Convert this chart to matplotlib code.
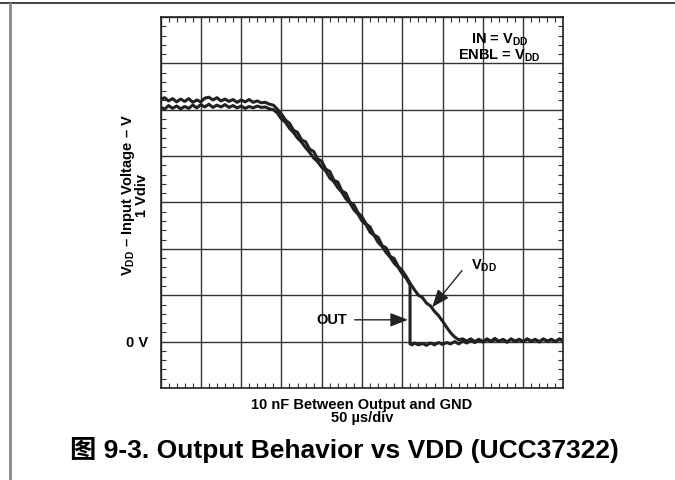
import matplotlib
matplotlib.use("Agg")
import matplotlib.pyplot as plt
from matplotlib.ticker import MultipleLocator

plt.rcParams['font.family'] = ['Liberation Sans', 'DejaVu Sans']
plt.rcParams['font.weight'] = 'bold'
plt.rcParams['mathtext.fontset'] = 'custom'
plt.rcParams['mathtext.rm'] = 'Liberation Sans:bold'
plt.rcParams['mathtext.bf'] = 'Liberation Sans:bold'
plt.rcParams['mathtext.it'] = 'Liberation Sans:bold'

# VDD trace, time in us, volts
t_vdd = [0, 5, 10, 15, 20, 25, 30, 35, 40, 45, 50, 55, 60, 65, 70, 75, 80, 85, 90, 95,
         100, 105, 110, 115, 120, 125, 130, 135, 140, 145, 150, 155, 160, 165, 170, 175,
         180, 185, 190, 195, 200, 205, 210, 215, 220, 225, 230, 235, 240, 245, 250, 255,
         260, 265, 270, 275, 280, 285, 290, 295, 300, 305, 310, 315, 320, 325, 330, 335,
         340, 345, 350, 355, 360, 365, 370, 375, 380, 385, 390, 395, 400, 405, 410, 415,
         420, 425, 430, 435, 440, 445, 450, 455, 460, 465, 470, 475, 480, 485, 490, 495, 500]
v_vdd = [5.22, 5.26, 5.19, 5.24, 5.17, 5.23, 5.18, 5.24, 5.16, 5.21, 5.17, 5.25, 5.27, 5.21,
         5.26, 5.19, 5.23, 5.18, 5.22, 5.16, 5.21, 5.17, 5.22, 5.16, 5.19, 5.15, 5.16, 5.12,
         5.10, 5.01, 4.91, 4.78, 4.71, 4.56, 4.51, 4.35, 4.31, 4.15, 4.10, 3.94, 3.89, 3.72,
         3.67, 3.48, 3.44, 3.25, 3.20, 3.01, 2.95, 2.78, 2.69, 2.54, 2.47, 2.30, 2.25, 2.07,
         2.02, 1.84, 1.79, 1.62, 1.53, 1.40, 1.25, 1.12, 1.00, 0.95, 0.83, 0.77, 0.65, 0.56,
         0.44, 0.31, 0.19, 0.10, 0.04, 0.06, 0.01, 0.06, 0.00, 0.05, 0.00, 0.06, 0.01, 0.07,
         0.00, 0.05, -0.01, 0.06, 0.01, 0.05, 0.00, 0.06, 0.01, 0.05, -0.01, 0.06, 0.01, 0.05,
         0.00, 0.06, 0.02]

# OUT trace
t_out = [0, 5, 10, 15, 20, 25, 30, 35, 40, 45, 50, 55, 60, 65, 70, 75, 80, 85, 90, 95,
         100, 105, 110, 115, 120, 125, 130, 135, 140, 145, 150, 155, 160, 165, 170, 175,
         180, 185, 190, 195, 200, 205, 210, 215, 220, 225, 230, 235, 240, 245, 250, 255,
         260, 265, 270, 275, 280, 285, 290, 295, 300, 305, 309.6, 309.6, 312, 315, 320,
         325, 330, 335, 340, 345, 350, 355, 360, 365, 370, 375, 380, 385, 390, 395, 400,
         405, 410, 415, 420, 425, 430, 435, 440, 445, 450, 455, 460, 465, 470, 475, 480,
         485, 490, 495, 500]
v_out = [5.06, 5.01, 5.09, 5.03, 5.08, 5.02, 5.07, 5.03, 5.10, 5.04, 5.11, 5.06, 5.12, 5.05,
         5.10, 5.06, 5.11, 5.05, 5.09, 5.04, 5.08, 5.03, 5.07, 5.04, 5.08, 5.05, 5.06, 5.02,
         5.00, 4.93, 4.80, 4.73, 4.60, 4.51, 4.39, 4.30, 4.18, 4.08, 3.96, 3.88, 3.76, 3.68,
         3.53, 3.45, 3.32, 3.22, 3.08, 2.99, 2.84, 2.75, 2.60, 2.52, 2.36, 2.29, 2.14, 2.05,
         1.92, 1.82, 1.69, 1.60, 1.46, 1.36, 1.22, -0.05, -0.07, -0.03, -0.07, -0.04, -0.08,
         -0.03, -0.07, -0.02, -0.06, -0.02, -0.05, 0.00, -0.05, 0.01, -0.03, 0.02, -0.02,
         0.03, -0.01, 0.04, 0.00, 0.04, 0.01, 0.04, -0.01, 0.05, 0.00, 0.04, 0.00, 0.05,
         0.01, 0.04, 0.00, 0.05, 0.01, 0.04, 0.00, 0.05, 0.01]

fig = plt.figure(figsize=(6.75, 4.8), dpi=100)
ax = fig.add_axes([0.2378, 0.1917, 0.597, 0.7729])

ax.plot(t_vdd, v_vdd, color='#222222', lw=2.2, zorder=3)
ax.plot(t_out, v_out, color='#222222', lw=2.2, zorder=3)

ax.set_xlim(0, 500)
ax.set_ylim(-1, 7)
ax.xaxis.set_major_locator(MultipleLocator(50))
ax.xaxis.set_minor_locator(MultipleLocator(10))
ax.yaxis.set_major_locator(MultipleLocator(1))
ax.yaxis.set_minor_locator(MultipleLocator(0.2))
ax.set_xticklabels([])
ax.set_yticks([-1, 0, 1, 2, 3, 4, 5, 6, 7])
ax.set_yticklabels(['', '0 V', '', '', '', '', '', '', ''], fontsize=10.5, fontweight='bold')
ax.grid(True, which='major', color='#333333', lw=1.0)
ax.tick_params(which='major', length=0, pad=9)
ax.tick_params(which='minor', direction='in', length=3.5, width=0.8,
               top=True, right=True, color='#333333')
for s in ax.spines.values():
    s.set_linewidth(1.2)
    s.set_color('#222222')

ax.set_ylabel('V$_{DD}$ \u2013 Input Voltage \u2013 V\n1 Vdiv', fontsize=10.5,
              fontweight='bold', linespacing=0.8)
ax.yaxis.set_label_coords(-0.029, 0.52)
ax.set_xlabel('10 nF Between Output and GND\n50 \u00b5s/div', fontsize=10.5,
              fontweight='bold', linespacing=0.95)
ax.xaxis.set_label_coords(0.5, -0.026)

ax.text(421, 6.50, 'IN = V$_{DD}$', ha='center', va='center', fontsize=10.5, fontweight='bold')
ax.text(421, 6.16, 'ENBL = V$_{DD}$', ha='center', va='center', fontsize=10.5, fontweight='bold')

ax.text(401, 1.63, 'V$_{DD}$', ha='center', va='center', fontsize=10.5, fontweight='bold')
ax.annotate('', xy=(337, 0.74), xytext=(374, 1.53),
            arrowprops=dict(arrowstyle='-|>,head_length=0.9,head_width=0.35',
                            mutation_scale=12, lw=1.0, color='#222222', shrinkA=0, shrinkB=0))
ax.text(213, 0.47, 'OUT', ha='center', va='center', fontsize=10.5, fontweight='bold')
ax.annotate('', xy=(307, 0.47), xytext=(241, 0.47),
            arrowprops=dict(arrowstyle='-|>,head_length=0.9,head_width=0.35',
                            mutation_scale=12, lw=1.0, color='#222222', shrinkA=0, shrinkB=0))

fig.text(0.51, 0.062, '\u56fe 9-3. Output Behavior vs VDD (UCC37322)', ha='center', va='center',
         fontsize=19, fontweight='bold', family=['Liberation Sans', 'Noto Sans CJK SC'])

# page frame lines
fig.add_artist(plt.Line2D([0, 1], [0.993, 0.993], color='#222222', lw=1.2))
fig.add_artist(plt.Line2D([0.0155, 0.0155], [0, 0.992], color='#888888', lw=2.0))

fig.savefig('out.png', dpi=100)
